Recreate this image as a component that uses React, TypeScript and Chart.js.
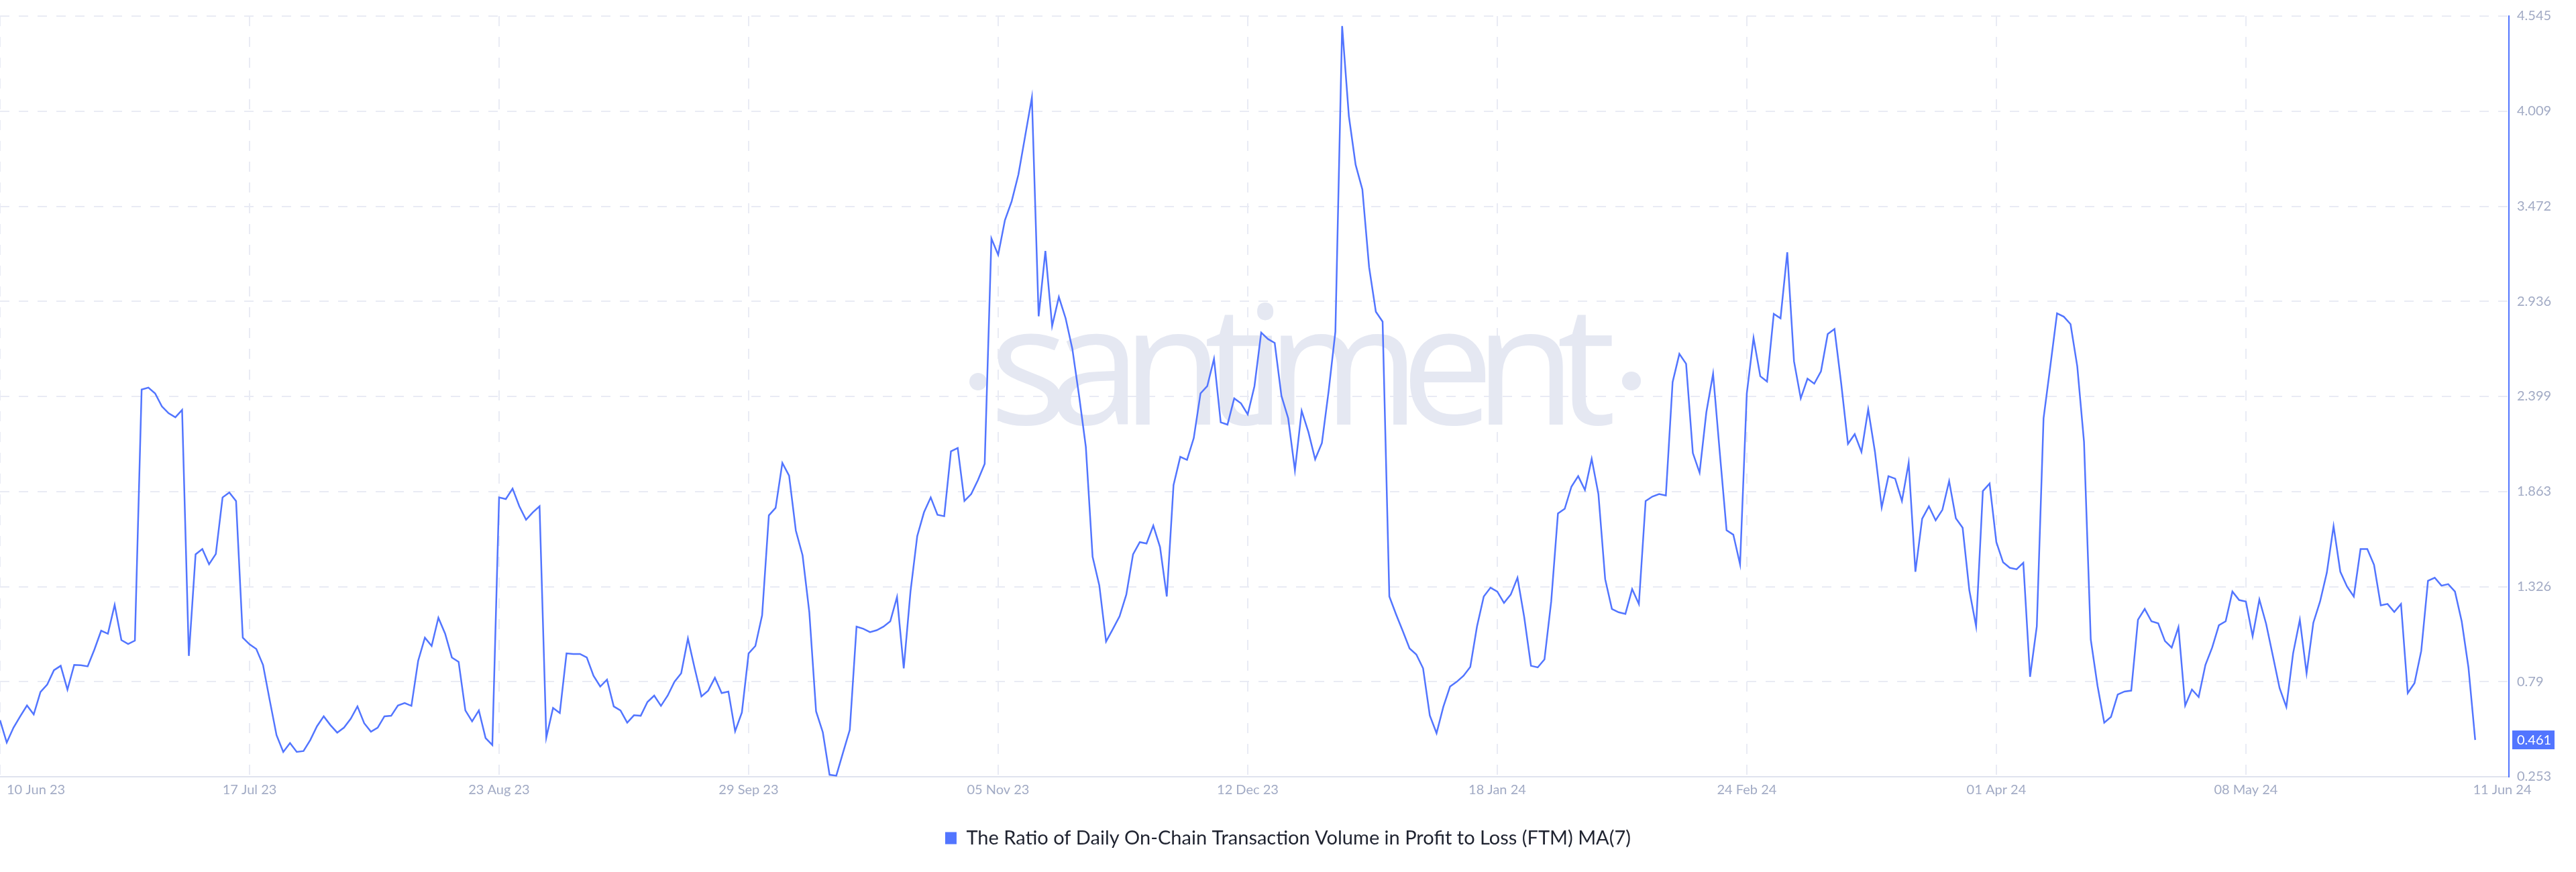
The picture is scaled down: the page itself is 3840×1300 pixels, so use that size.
import React, { useEffect, useRef } from 'react';
import { Chart, registerables } from 'chart.js';

Chart.register(...registerables);

const seriesLabel = 'The Ratio of Daily On-Chain Transaction Volume in Profit to Loss (FTM) MA(7)';

// daily values, one per day starting 10 Jun 23 (day 0) to 11 Jun 24 (day 367)
const ratioValues = [
  0.572, 0.446, 0.530, 0.594, 0.655, 0.605, 0.731, 0.773, 0.854, 0.879,
  0.745, 0.884, 0.882, 0.876, 0.971, 1.077, 1.060, 1.223, 1.024, 1.002,
  1.021, 2.438, 2.449, 2.416, 2.343, 2.304, 2.281, 2.323, 0.935, 1.508,
  1.538, 1.452, 1.510, 1.829, 1.857, 1.809, 1.038, 1.000, 0.974, 0.884,
  0.683, 0.488, 0.393, 0.443, 0.393, 0.398, 0.460, 0.538, 0.594, 0.544,
  0.502, 0.530, 0.580, 0.650, 0.555, 0.507, 0.530, 0.594, 0.597, 0.655,
  0.669, 0.653, 0.907, 1.038, 0.991, 1.150, 1.060, 0.926, 0.901, 0.627,
  0.566, 0.627, 0.471, 0.432, 1.829, 1.820, 1.879, 1.779, 1.703, 1.745,
  1.779, 0.474, 0.641, 0.613, 0.949, 0.946, 0.946, 0.926, 0.823, 0.762,
  0.801, 0.650, 0.627, 0.558, 0.600, 0.597, 0.675, 0.711, 0.653, 0.711,
  0.789, 0.837, 1.033, 0.865, 0.706, 0.739, 0.812, 0.725, 0.734, 0.510,
  0.616, 0.949, 0.991, 1.164, 1.728, 1.770, 2.024, 1.952, 1.642, 1.502,
  1.181, 0.622, 0.504, 0.264, 0.259, 0.390, 0.518, 1.100, 1.088, 1.069,
  1.080, 1.100, 1.130, 1.267, 0.865, 1.298, 1.611, 1.745, 1.829, 1.731,
  1.723, 2.089, 2.108, 1.809, 1.848, 1.927, 2.019, 3.290, 3.198, 3.393,
  3.500, 3.651, 3.868, 4.086, 2.851, 3.220, 2.796, 2.960, 2.840, 2.667,
  2.402, 2.114, 1.494, 1.332, 1.016, 1.086, 1.158, 1.281, 1.508, 1.577,
  1.569, 1.670, 1.549, 1.270, 1.899, 2.058, 2.041, 2.164, 2.416, 2.457,
  2.611, 2.253, 2.240, 2.388, 2.360, 2.298, 2.457, 2.759, 2.723, 2.701,
  2.402, 2.276, 1.982, 2.318, 2.198, 2.044, 2.136, 2.430, 2.765, 4.489,
  3.980, 3.706, 3.567, 3.128, 2.877, 2.821, 1.270, 1.169, 1.074, 0.977,
  0.943, 0.865, 0.599, 0.499, 0.647, 0.762, 0.789, 0.823, 0.873, 1.102,
  1.270, 1.320, 1.298, 1.234, 1.281, 1.376, 1.153, 0.879, 0.870, 0.915,
  1.242, 1.739, 1.765, 1.890, 1.949, 1.871, 2.047, 1.848, 1.368, 1.200,
  1.181, 1.172, 1.312, 1.228, 1.809, 1.834, 1.848, 1.840, 2.480, 2.639,
  2.583, 2.080, 1.969, 2.309, 2.527, 2.080, 1.644, 1.619, 1.452, 2.416,
  2.729, 2.513, 2.483, 2.865, 2.840, 3.212, 2.597, 2.388, 2.499, 2.471,
  2.541, 2.751, 2.779, 2.471, 2.131, 2.186, 2.086, 2.326, 2.087, 1.773,
  1.949, 1.935, 1.809, 2.024, 1.410, 1.709, 1.779, 1.700, 1.759, 1.921,
  1.711, 1.658, 1.304, 1.102, 1.865, 1.907, 1.577, 1.463, 1.432, 1.424,
  1.460, 0.817, 1.102, 2.276, 2.569, 2.868, 2.849, 2.807, 2.569, 2.142,
  1.027, 0.767, 0.558, 0.591, 0.717, 0.734, 0.739, 1.139, 1.200, 1.130,
  1.119, 1.019, 0.982, 1.097, 0.655, 0.745, 0.703, 0.884, 0.982, 1.108,
  1.130, 1.298, 1.250, 1.242, 1.046, 1.253, 1.116, 0.935, 0.753, 0.647,
  0.949, 1.139, 0.837, 1.122, 1.242, 1.404, 1.667, 1.410, 1.326, 1.270,
  1.538, 1.538, 1.449, 1.220, 1.228, 1.183, 1.228, 0.725, 0.781, 0.963,
  1.359, 1.376, 1.331, 1.340, 1.298, 1.130, 0.870, 0.461,
];

const xTickDays = [0, 37, 74, 111, 148, 185, 222, 259, 296, 333];
const xTickLabels = [
  '10 Jun 23', '17 Jul 23', '23 Aug 23', '29 Sep 23', '05 Nov 23',
  '12 Dec 23', '18 Jan 24', '24 Feb 24', '01 Apr 24', '08 May 24',
];
const lastDateLabel = '11 Jun 24';
const xMaxDay = 372;
const yTickLabels = ['0.253', '0.79', '1.326', '1.863', '2.399', '2.936', '3.472', '4.009', '4.545'];

const LINE = '#5275ff';
const GRID = '#e9ebf4';
const TICK = '#a1aac4';
const WATERMARK = '#e5e8f2';
const LEGEND_TEXT = '#1f2330';

const overlayPlugin = {
  id: 'overlay',
  beforeDatasetsDraw(chart: any) {
    const { ctx } = chart;
    ctx.save();
    ctx.fillStyle = WATERMARK;
    ctx.font = '400 247px "Open Sans"';
    ctx.textBaseline = 'alphabetic';
    ctx.textAlign = 'left';
    const chars = 'santiment'.split('');
    const widths = chars.map((c: string) => ctx.measureText(c).width);
    const firstM = ctx.measureText(chars[0]);
    const lastM = ctx.measureText(chars[chars.length - 1]);
    let natural = firstM.actualBoundingBoxLeft + lastM.actualBoundingBoxRight;
    for (let i = 0; i < chars.length - 1; i++) natural += widths[i];
    const inkLeft = 1487;
    const inkRight = 2404;
    const gap = (inkRight - inkLeft - natural) / (chars.length - 1);
    let x = inkLeft + firstM.actualBoundingBoxLeft;
    const baseline = 633;
    chars.forEach((c: string, i: number) => {
      ctx.fillText(c, x, baseline);
      x += widths[i] + gap;
    });
    ctx.beginPath();
    ctx.arc(inkLeft - 29, baseline - 64, 13, 0, Math.PI * 2);
    ctx.fill();
    ctx.beginPath();
    ctx.arc(inkRight + 28, baseline - 65, 14, 0, Math.PI * 2);
    ctx.fill();
    ctx.restore();
  },
  afterDraw(chart: any) {
    const { ctx, chartArea, scales } = chart;
    const xs = scales.x;
    const ys = scales.y;
    ctx.save();
    ctx.font = '20px Lato';
    ctx.fillStyle = TICK;
    ctx.textBaseline = 'middle';
    const labelY = chartArea.bottom + 20;
    xTickDays.forEach((d, k) => {
      const px = xs.getPixelForValue(d);
      const w = ctx.measureText(xTickLabels[k]).width;
      const left = Math.max(px - w / 2, chartArea.left + 10);
      ctx.textAlign = 'left';
      ctx.fillText(xTickLabels[k], left, labelY);
    });
    ctx.textAlign = 'center';
    ctx.fillText(lastDateLabel, chartArea.right - 10, labelY);

    const last = ratioValues[ratioValues.length - 1];
    const by = ys.getPixelForValue(last);
    ctx.fillStyle = LINE;
    ctx.fillRect(chartArea.right + 5, by - 14, 63, 28);
    ctx.fillStyle = '#ffffff';
    ctx.textAlign = 'left';
    ctx.fillText(last.toFixed(3), chartArea.right + 12, by + 1);
    ctx.restore();
  },
};

export default function App() {
  const ref = useRef<HTMLCanvasElement>(null);
  useEffect(() => {
    document.body.style.margin = '0';
    const canvas = ref.current;
    if (!canvas) return;
    const yVals = yTickLabels.map(Number);
    const chart = new Chart(canvas, {
      type: 'line',
      data: {
        datasets: [
          {
            label: seriesLabel,
            data: ratioValues.map((v, i) => ({ x: i, y: v })),
            borderColor: LINE,
            backgroundColor: LINE,
            borderWidth: 2.5,
            pointRadius: 0,
            tension: 0,
            fill: false,
          },
        ],
      },
      options: {
        animation: false,
        responsive: false,
        maintainAspectRatio: false,
        devicePixelRatio: 1,
        layout: { padding: { top: 15, left: 0, right: 0, bottom: 26 } },
        plugins: {
          tooltip: { enabled: false },
          legend: {
            display: true,
            position: 'bottom',
            align: 'center',
            labels: {
              boxWidth: 17,
              boxHeight: 18,
              padding: 17,
              color: LEGEND_TEXT,
              font: { family: 'Lato', size: 29 },
              generateLabels: (c: any) =>
                c.data.datasets.map((ds: any, i: number) => ({
                  text: ds.label,
                  fillStyle: LINE,
                  strokeStyle: LINE,
                  lineWidth: 0,
                  hidden: false,
                  datasetIndex: i,
                  fontColor: LEGEND_TEXT,
                })),
            },
          },
        },
        scales: {
          x: {
            type: 'linear',
            min: 0,
            max: xMaxDay,
            afterBuildTicks: (s: any) => {
              s.ticks = xTickDays.map((v) => ({ value: v }));
            },
            afterFit: (s: any) => {
              s.height = 60;
            },
            ticks: { display: false },
            grid: { color: GRID, lineWidth: 2, drawTicks: false },
            border: { display: true, color: '#dfe3ee', width: 2, dash: [15, 16] },
          },
          y: {
            type: 'linear',
            position: 'right',
            min: yVals[0],
            max: yVals[yVals.length - 1],
            afterBuildTicks: (s: any) => {
              s.ticks = yVals.map((v) => ({ value: v }));
            },
            afterFit: (s: any) => {
              s.width = 100;
            },
            ticks: {
              padding: 12,
              color: TICK,
              font: { family: 'Lato', size: 20 },
              callback: (value: any) => {
                const idx = yVals.findIndex((v) => Math.abs(v - Number(value)) < 1e-6);
                return idx >= 0 ? yTickLabels[idx] : '';
              },
            },
            grid: { color: GRID, lineWidth: 2, drawTicks: false },
            border: { display: true, color: LINE, width: 2, dash: [14, 14] },
          },
        },
      },
      plugins: [overlayPlugin],
    } as any);
    return () => chart.destroy();
  }, []);
  return (
    <div style={{ position: 'absolute', left: 0, top: 0, width: 3840, height: 1300, background: '#ffffff' }}>
      <canvas ref={ref} width={3840} height={1300} style={{ display: 'block', width: 3840, height: 1300 }} />
    </div>
  );
}
